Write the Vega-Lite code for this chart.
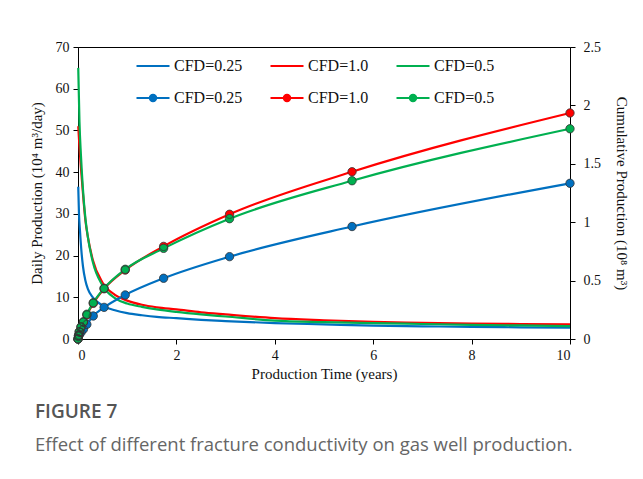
{
  "$schema": "https://vega.github.io/schema/vega-lite/v6.json",
  "autosize": {"type": "none"},
  "width": 492,
  "height": 292,
  "padding": {"left": 78, "top": 47, "right": 73, "bottom": 140},
  "background": "white",
  "title": {
    "text": "FIGURE 7",
    "subtitle": "Effect of different fracture conductivity on gas well production.",
    "orient": "bottom",
    "anchor": "start",
    "frame": "bounds",
    "offset": 22,
    "dx": 6,
    "font": "Open Sans",
    "fontSize": 19,
    "fontWeight": 600,
    "color": "#555555",
    "subtitleFont": "Open Sans",
    "subtitleFontSize": 18.5,
    "subtitleColor": "#666666",
    "subtitlePadding": 14
  },
  "datasets": {
    "daily": [
      {"t": 0.005, "q": 36.5, "CFD": "CFD=0.25"},
      {"t": 0.02, "q": 30, "CFD": "CFD=0.25"},
      {"t": 0.04, "q": 26, "CFD": "CFD=0.25"},
      {"t": 0.07, "q": 21, "CFD": "CFD=0.25"},
      {"t": 0.1, "q": 17.5, "CFD": "CFD=0.25"},
      {"t": 0.15, "q": 14, "CFD": "CFD=0.25"},
      {"t": 0.2, "q": 12, "CFD": "CFD=0.25"},
      {"t": 0.3, "q": 10, "CFD": "CFD=0.25"},
      {"t": 0.5, "q": 8, "CFD": "CFD=0.25"},
      {"t": 0.75, "q": 6.9, "CFD": "CFD=0.25"},
      {"t": 1, "q": 6.2, "CFD": "CFD=0.25"},
      {"t": 1.3, "q": 5.7, "CFD": "CFD=0.25"},
      {"t": 1.6, "q": 5.3, "CFD": "CFD=0.25"},
      {"t": 2, "q": 5.0, "CFD": "CFD=0.25"},
      {"t": 2.5, "q": 4.6, "CFD": "CFD=0.25"},
      {"t": 3, "q": 4.3, "CFD": "CFD=0.25"},
      {"t": 4, "q": 3.8, "CFD": "CFD=0.25"},
      {"t": 5, "q": 3.5, "CFD": "CFD=0.25"},
      {"t": 6, "q": 3.2, "CFD": "CFD=0.25"},
      {"t": 7, "q": 3.05, "CFD": "CFD=0.25"},
      {"t": 8, "q": 2.9, "CFD": "CFD=0.25"},
      {"t": 9, "q": 2.8, "CFD": "CFD=0.25"},
      {"t": 10, "q": 2.7, "CFD": "CFD=0.25"},
      {"t": 0.005, "q": 51, "CFD": "CFD=1.0"},
      {"t": 0.03, "q": 46, "CFD": "CFD=1.0"},
      {"t": 0.06, "q": 41, "CFD": "CFD=1.0"},
      {"t": 0.1, "q": 35, "CFD": "CFD=1.0"},
      {"t": 0.15, "q": 28.5, "CFD": "CFD=1.0"},
      {"t": 0.2, "q": 24.5, "CFD": "CFD=1.0"},
      {"t": 0.3, "q": 19, "CFD": "CFD=1.0"},
      {"t": 0.5, "q": 13.5, "CFD": "CFD=1.0"},
      {"t": 0.75, "q": 10.6, "CFD": "CFD=1.0"},
      {"t": 1, "q": 9.2, "CFD": "CFD=1.0"},
      {"t": 1.3, "q": 8.2, "CFD": "CFD=1.0"},
      {"t": 1.6, "q": 7.6, "CFD": "CFD=1.0"},
      {"t": 2, "q": 7.1, "CFD": "CFD=1.0"},
      {"t": 2.5, "q": 6.4, "CFD": "CFD=1.0"},
      {"t": 3, "q": 5.9, "CFD": "CFD=1.0"},
      {"t": 4, "q": 5.0, "CFD": "CFD=1.0"},
      {"t": 5, "q": 4.5, "CFD": "CFD=1.0"},
      {"t": 6, "q": 4.1, "CFD": "CFD=1.0"},
      {"t": 7, "q": 3.9, "CFD": "CFD=1.0"},
      {"t": 8, "q": 3.7, "CFD": "CFD=1.0"},
      {"t": 9, "q": 3.6, "CFD": "CFD=1.0"},
      {"t": 10, "q": 3.5, "CFD": "CFD=1.0"},
      {"t": 0.005, "q": 65, "CFD": "CFD=0.5"},
      {"t": 0.03, "q": 52, "CFD": "CFD=0.5"},
      {"t": 0.06, "q": 44, "CFD": "CFD=0.5"},
      {"t": 0.1, "q": 36, "CFD": "CFD=0.5"},
      {"t": 0.15, "q": 29, "CFD": "CFD=0.5"},
      {"t": 0.2, "q": 24.5, "CFD": "CFD=0.5"},
      {"t": 0.3, "q": 18.5, "CFD": "CFD=0.5"},
      {"t": 0.5, "q": 12.8, "CFD": "CFD=0.5"},
      {"t": 0.75, "q": 9.8, "CFD": "CFD=0.5"},
      {"t": 1, "q": 8.5, "CFD": "CFD=0.5"},
      {"t": 1.3, "q": 7.7, "CFD": "CFD=0.5"},
      {"t": 1.6, "q": 7.1, "CFD": "CFD=0.5"},
      {"t": 2, "q": 6.5, "CFD": "CFD=0.5"},
      {"t": 2.5, "q": 5.9, "CFD": "CFD=0.5"},
      {"t": 3, "q": 5.4, "CFD": "CFD=0.5"},
      {"t": 4, "q": 4.4, "CFD": "CFD=0.5"},
      {"t": 5, "q": 4.05, "CFD": "CFD=0.5"},
      {"t": 6, "q": 3.8, "CFD": "CFD=0.5"},
      {"t": 7, "q": 3.6, "CFD": "CFD=0.5"},
      {"t": 8, "q": 3.4, "CFD": "CFD=0.5"},
      {"t": 9, "q": 3.25, "CFD": "CFD=0.5"},
      {"t": 10, "q": 3.1, "CFD": "CFD=0.5"}
    ],
    "cum": [
      {"t": 0, "G": 0, "CFD": "CFD=0.25"},
      {"t": 0.01, "G": 0.02, "CFD": "CFD=0.25"},
      {"t": 0.025, "G": 0.035, "CFD": "CFD=0.25"},
      {"t": 0.06, "G": 0.055, "CFD": "CFD=0.25"},
      {"t": 0.11, "G": 0.083, "CFD": "CFD=0.25"},
      {"t": 0.18, "G": 0.125, "CFD": "CFD=0.25"},
      {"t": 0.31, "G": 0.197, "CFD": "CFD=0.25"},
      {"t": 0.53, "G": 0.271, "CFD": "CFD=0.25"},
      {"t": 0.96, "G": 0.377, "CFD": "CFD=0.25"},
      {"t": 1.74, "G": 0.52, "CFD": "CFD=0.25"},
      {"t": 3.08, "G": 0.705, "CFD": "CFD=0.25"},
      {"t": 5.57, "G": 0.963, "CFD": "CFD=0.25"},
      {"t": 10, "G": 1.333, "CFD": "CFD=0.25"},
      {"t": 0, "G": 0, "CFD": "CFD=1.0"},
      {"t": 0.01, "G": 0.028, "CFD": "CFD=1.0"},
      {"t": 0.025, "G": 0.06, "CFD": "CFD=1.0"},
      {"t": 0.06, "G": 0.1, "CFD": "CFD=1.0"},
      {"t": 0.11, "G": 0.143, "CFD": "CFD=1.0"},
      {"t": 0.18, "G": 0.205, "CFD": "CFD=1.0"},
      {"t": 0.31, "G": 0.305, "CFD": "CFD=1.0"},
      {"t": 0.53, "G": 0.43, "CFD": "CFD=1.0"},
      {"t": 0.96, "G": 0.59, "CFD": "CFD=1.0"},
      {"t": 1.74, "G": 0.793, "CFD": "CFD=1.0"},
      {"t": 3.08, "G": 1.068, "CFD": "CFD=1.0"},
      {"t": 5.57, "G": 1.432, "CFD": "CFD=1.0"},
      {"t": 10, "G": 1.935, "CFD": "CFD=1.0"},
      {"t": 0, "G": 0, "CFD": "CFD=0.5"},
      {"t": 0.01, "G": 0.03, "CFD": "CFD=0.5"},
      {"t": 0.025, "G": 0.062, "CFD": "CFD=0.5"},
      {"t": 0.06, "G": 0.105, "CFD": "CFD=0.5"},
      {"t": 0.11, "G": 0.148, "CFD": "CFD=0.5"},
      {"t": 0.18, "G": 0.212, "CFD": "CFD=0.5"},
      {"t": 0.31, "G": 0.311, "CFD": "CFD=0.5"},
      {"t": 0.53, "G": 0.434, "CFD": "CFD=0.5"},
      {"t": 0.96, "G": 0.597, "CFD": "CFD=0.5"},
      {"t": 1.74, "G": 0.776, "CFD": "CFD=0.5"},
      {"t": 3.08, "G": 1.03, "CFD": "CFD=0.5"},
      {"t": 5.57, "G": 1.355, "CFD": "CFD=0.5"},
      {"t": 10, "G": 1.80, "CFD": "CFD=0.5"}
    ]
  },
  "config": {
    "view": {"stroke": "#000000", "strokeWidth": 1},
    "axis": {
      "grid": false,
      "domainColor": "#000000",
      "tickColor": "#000000",
      "tickSize": 5,
      "labelFont": "Liberation Serif",
      "labelFontSize": 14,
      "labelColor": "#111111",
      "titleFont": "Liberation Serif",
      "titleFontSize": 15,
      "titleFontWeight": "normal",
      "titleColor": "#111111"
    },
    "legend": {
      "orient": "none",
      "direction": "horizontal",
      "columns": 3,
      "labelFont": "Liberation Serif",
      "labelFontSize": 16,
      "labelColor": "#111111",
      "labelOffset": 3,
      "columnPadding": 23,
      "symbolSize": 1089,
      "symbolStrokeWidth": 2.2,
      "padding": 0
    }
  },
  "layer": [
    {
      "data": {"name": "daily"},
      "mark": {"type": "line", "interpolate": "monotone", "strokeWidth": 2.2},
      "encoding": {
        "x": {
          "field": "t",
          "type": "quantitative",
          "scale": {"domain": [0, 10], "nice": false},
          "axis": {"values": [0, 2, 4, 6, 8, 10], "title": "Production Time (years)", "labelPadding": 4, "titlePadding": 4}
        },
        "y": {
          "field": "q",
          "type": "quantitative",
          "scale": {"domain": [0, 70], "nice": false},
          "axis": {"orient": "left", "values": [0, 10, 20, 30, 40, 50, 60, 70], "title": "Daily Production (10⁴ m³/day)", "labelPadding": 4, "titlePadding": 11}
        },
        "color": {
          "field": "CFD",
          "type": "nominal",
          "sort": null,
          "scale": {"domain": ["CFD=0.25", "CFD=1.0", "CFD=0.5"], "range": ["#0070C0", "#FF0000", "#00B050"]},
          "legend": {"title": null, "symbolType": "stroke", "legendX": 57, "legendY": 1}
        }
      }
    },
    {
      "data": {"name": "cum"},
      "encoding": {
        "x": {"field": "t", "type": "quantitative"},
        "y": {
          "field": "G",
          "type": "quantitative",
          "scale": {"domain": [0, 2.5], "nice": false},
          "axis": {"orient": "right", "values": [0, 0.5, 1, 1.5, 2, 2.5], "format": "~g", "title": "Cumulative Production (10⁸ m³)", "labelPadding": 8, "titlePadding": 13}
        }
      },
      "layer": [
        {
          "mark": {"type": "line", "interpolate": "monotone", "strokeWidth": 2.2},
          "encoding": {
            "color": {
              "field": "CFD",
              "type": "nominal",
              "sort": null
            }
          }
        },
        {
          "mark": {"type": "point", "filled": true, "size": 70, "strokeWidth": 2.2, "opacity": 1},
          "encoding": {
            "fill": {
              "field": "CFD",
              "type": "nominal",
              "sort": null,
              "scale": {"range": ["#0070C0", "#FF0000", "#00B050"]},
              "legend": {
                "title": null,
                "symbolType": "M-1,0H-0.19A0.19,0.19 0 1,1 0.19,0A0.19,0.19 0 1,1 -0.19,0M0.19,0H1",
                "symbolStrokeWidth": 2.2,
                "legendX": 57,
                "legendY": 33
              }
            },
            "stroke": {
              "field": "CFD",
              "type": "nominal",
              "sort": null,
              "scale": {"range": ["#0070C0", "#FF0000", "#00B050"]},
              "legend": {
                "title": null,
                "symbolType": "M-1,0H-0.19A0.19,0.19 0 1,1 0.19,0A0.19,0.19 0 1,1 -0.19,0M0.19,0H1",
                "symbolStrokeWidth": 2.2,
                "legendX": 57,
                "legendY": 33
              }
            },
            "strokeWidth": {"value": 0}
          }
        },
        {
          "mark": {"type": "point", "filled": false, "size": 70, "stroke": "#333333", "strokeWidth": 0.8, "opacity": 1}
        }
      ]
    }
  ],
  "resolve": {"scale": {"y": "independent"}}
}
